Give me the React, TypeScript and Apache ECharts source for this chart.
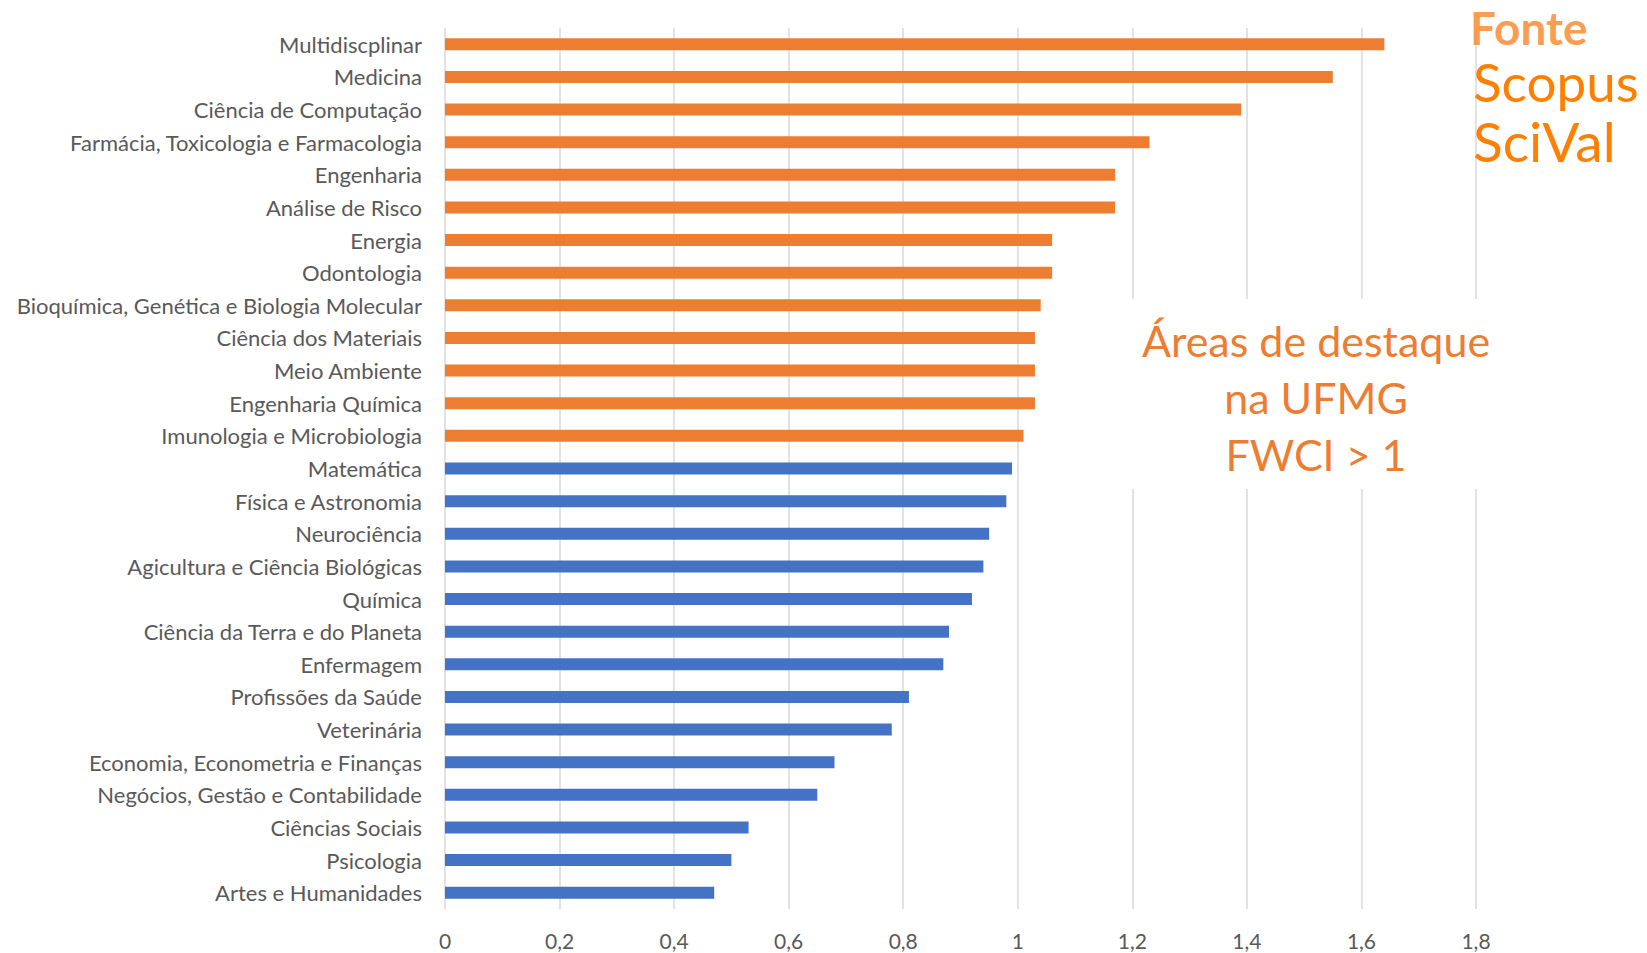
import React, { useEffect, useRef } from "react";
import * as echarts from "echarts";

const categories = [
  "Multidiscplinar",
  "Medicina",
  "Ciência de Computação",
  "Farmácia, Toxicologia e Farmacologia",
  "Engenharia",
  "Análise de Risco",
  "Energia",
  "Odontologia",
  "Bioquímica, Genética e Biologia Molecular",
  "Ciência dos Materiais",
  "Meio Ambiente",
  "Engenharia Química",
  "Imunologia e Microbiologia",
  "Matemática",
  "Física e Astronomia",
  "Neurociência",
  "Agicultura e Ciência Biológicas",
  "Química",
  "Ciência da Terra e do Planeta",
  "Enfermagem",
  "Profissões da Saúde",
  "Veterinária",
  "Economia, Econometria e Finanças",
  "Negócios, Gestão e Contabilidade",
  "Ciências Sociais",
  "Psicologia",
  "Artes e Humanidades",
];

const fwci = [
  1.64, 1.55, 1.39, 1.23, 1.17, 1.17, 1.06, 1.06, 1.04, 1.03, 1.03, 1.03, 1.01,
  0.99, 0.98, 0.95, 0.94, 0.92, 0.88, 0.87, 0.81, 0.78, 0.68, 0.65, 0.53, 0.5,
  0.47,
];

const xTicks = [0, 0.2, 0.4, 0.6, 0.8, 1, 1.2, 1.4, 1.6, 1.8];

const ORANGE = "#ED7D31";
const BLUE = "#4472C4";
const FONT = "Lato";

export default function App() {
  const ref = useRef<HTMLDivElement>(null);
  useEffect(() => {
    if (!ref.current) return;
    const chart = echarts.init(ref.current, null, { renderer: "svg" });
    const cats = [...categories].reverse();
    const vals = [...fwci].reverse().map((v) => ({
      value: v,
      itemStyle: { color: v > 1 ? ORANGE : BLUE },
    }));
    const centerText = (text: string, y: number) => ({
      type: "text",
      z: 101,
      x: 1316,
      y,
      style: {
        text,
        fill: ORANGE,
        font: `43px ${FONT}`,
        lineHeight: 44,
        textAlign: "center",
        textVerticalAlign: "middle",
      },
    });
    chart.setOption({
      animation: false,
      backgroundColor: "#ffffff",
      grid: { left: 445, width: 1031, top: 28, height: 881 },
      xAxis: {
        type: "value",
        min: xTicks[0],
        max: xTicks[xTicks.length - 1],
        interval: 0.2,
        axisLine: { show: false },
        axisTick: { show: false },
        splitLine: { show: true, lineStyle: { color: "#d9d9d9", width: 1.5 } },
        axisLabel: {
          color: "#595959",
          fontFamily: FONT,
          fontSize: 21,
          margin: 21,
          formatter: (v: number) =>
            String(Math.round(v * 10) / 10).replace(".", ","),
        },
      },
      yAxis: {
        type: "category",
        data: cats,
        axisLine: { show: false },
        axisTick: { show: false },
        axisLabel: {
          color: "#595959",
          fontFamily: FONT,
          fontSize: 22,
          margin: 23,
        },
      },
      series: [
        {
          type: "bar",
          data: vals,
          barWidth: 12,
        },
      ],
      graphic: [
        {
          type: "rect",
          z: 100,
          shape: { x: 1085, y: 299, width: 420, height: 190 },
          style: { fill: "#ffffff" },
        },
        centerText("Áreas de destaque", 340),
        centerText("na UFMG", 397),
        centerText("FWCI > 1", 454),
        {
          type: "text",
          z: 101,
          x: 1470,
          y: 27,
          style: {
            text: "Fonte",
            fill: "rgba(249,140,50,0.85)",
            font: `bold 46px ${FONT}`,
            lineHeight: 40,
            textAlign: "left",
            textVerticalAlign: "middle",
          },
        },
        {
          type: "text",
          z: 101,
          x: 1473,
          y: 81,
          style: {
            text: "Scopus",
            fill: "#FF8000",
            font: `53px ${FONT}`,
            lineHeight: 46,
            textAlign: "left",
            textVerticalAlign: "middle",
          },
        },
        {
          type: "text",
          z: 101,
          x: 1473,
          y: 141,
          style: {
            text: "SciVal",
            fill: "#FF8000",
            font: `55px ${FONT}`,
            lineHeight: 46,
            textAlign: "left",
            textVerticalAlign: "middle",
          },
        },
      ],
    });
    return () => chart.dispose();
  }, []);
  return (
    <div
      ref={ref}
      style={{ position: "fixed", left: 0, top: 0, width: 1647, height: 953 }}
    />
  );
}
